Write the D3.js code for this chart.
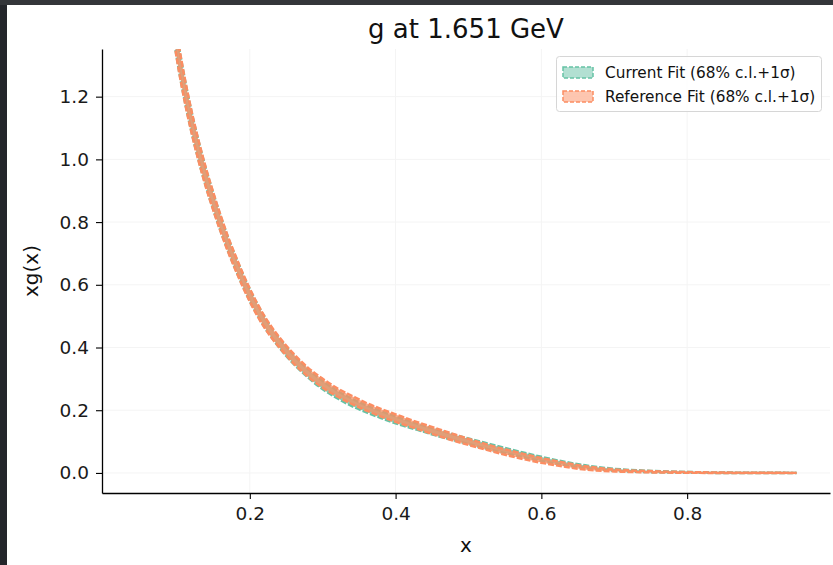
<!DOCTYPE html>
<html>
<head>
<meta charset="utf-8">
<script src="https://cdn.jsdelivr.net/npm/d3@7"></script>
<style>
  body { margin: 0; background: #24262b; }
  svg { display: block; font-family: "DejaVu Sans", sans-serif; }
</style>
</head>
<body>
<svg id="chart" width="833" height="565"></svg>
<script>
// values
var xValues = [0.09, 0.10, 0.11, 0.12, 0.13, 0.14, 0.15, 0.16, 0.17, 0.18, 0.19, 0.20, 0.21, 0.22, 0.23, 0.24, 0.26, 0.28, 0.30,
  0.32, 0.34, 0.36, 0.38, 0.40, 0.43, 0.46, 0.50, 0.53, 0.56, 0.60, 0.63, 0.66, 0.70, 0.75, 0.80, 0.85, 0.90, 0.95];
var currentCV = [1.52, 1.36, 1.23, 1.12, 1.025, 0.94, 0.865, 0.795, 0.73, 0.672, 0.617, 0.567, 0.522, 0.482, 0.447, 0.416, 0.362, 0.317, 0.280,
  0.250, 0.225, 0.204, 0.186, 0.169, 0.147, 0.126, 0.101, 0.083, 0.066, 0.045, 0.031, 0.020, 0.010, 0.0045, 0.0018, 0.0007, 0.0002, 0.0];
var currentErr = [0.040, 0.036, 0.033, 0.030, 0.028, 0.026, 0.024, 0.022, 0.020, 0.019, 0.018, 0.017, 0.016, 0.015, 0.014, 0.014, 0.013, 0.012, 0.012,
  0.011, 0.011, 0.010, 0.010, 0.010, 0.009, 0.009, 0.008, 0.008, 0.007, 0.006, 0.005, 0.004, 0.003, 0.002, 0.0012, 0.0007, 0.0004, 0.0002];
var referenceCV = [1.52, 1.36, 1.23, 1.12, 1.025, 0.94, 0.865, 0.795, 0.73, 0.672, 0.617, 0.567, 0.522, 0.482, 0.448, 0.418, 0.365, 0.321, 0.286,
  0.257, 0.233, 0.211, 0.192, 0.175, 0.151, 0.128, 0.099, 0.079, 0.061, 0.040, 0.027, 0.016, 0.008, 0.0038, 0.0016, 0.0006, 0.0002, 0.0];
var referenceErr = [0.042, 0.038, 0.035, 0.032, 0.030, 0.028, 0.026, 0.024, 0.022, 0.021, 0.020, 0.019, 0.018, 0.017, 0.016, 0.015, 0.014, 0.013, 0.013,
  0.012, 0.012, 0.011, 0.011, 0.011, 0.010, 0.010, 0.009, 0.008, 0.008, 0.007, 0.006, 0.005, 0.003, 0.002, 0.0012, 0.0007, 0.0004, 0.0002];
var xTicks = [0.2, 0.4, 0.6, 0.8];
var yTicks = [0.0, 0.2, 0.4, 0.6, 0.8, 1.0, 1.2];
var seriesNames = ["Current Fit (68% c.l.+1σ)", "Reference Fit (68% c.l.+1σ)"];
var seriesColors = ["#66c2a5", "#fc8d62"];

var svg = d3.select("#chart");
var margin = {top: 49, right: 3, bottom: 72, left: 102};
var W = 833, H = 565;

// dark frame around the white figure
svg.append("rect").attr("width", W).attr("height", H).attr("fill", "#24262b");
svg.append("rect").attr("x", 0).attr("y", 0).attr("width", W).attr("height", 5).attr("fill", "#34363a");
svg.append("rect").attr("x", 7).attr("y", 5).attr("width", W - 7).attr("height", H - 5).attr("fill", "#ffffff");

var x = d3.scaleLinear().domain([-0.0028, 0.996]).range([margin.left, W - margin.right]);
var y = d3.scaleLinear().domain([-0.064, 1.352]).range([H - margin.bottom, margin.top]);

// faint grid
svg.append("g").selectAll("line").data(xTicks).enter().append("line")
  .attr("x1", function(d) { return x(d); }).attr("x2", function(d) { return x(d); })
  .attr("y1", y.range()[1]).attr("y2", y.range()[0])
  .attr("stroke", "#f4f4f4").attr("stroke-width", 1);
svg.append("g").selectAll("line").data(yTicks).enter().append("line")
  .attr("y1", function(d) { return y(d); }).attr("y2", function(d) { return y(d); })
  .attr("x1", x.range()[0]).attr("x2", x.range()[1])
  .attr("stroke", "#f4f4f4").attr("stroke-width", 1);

svg.append("clipPath").attr("id", "clip").append("rect")
  .attr("x", x.range()[0]).attr("y", y.range()[1])
  .attr("width", x.range()[1] - x.range()[0]).attr("height", y.range()[0] - y.range()[1]);

var plot = svg.append("g").attr("clip-path", "url(#clip)");

var series = [
  {cv: currentCV, err: currentErr, color: seriesColors[0]},
  {cv: referenceCV, err: referenceErr, color: seriesColors[1]}
];

series.forEach(function(s) {
  var pts = xValues.map(function(xv, i) { return {x: xv, cv: s.cv[i], e: s.err[i]}; });
  var area = d3.area().curve(d3.curveMonotoneX)
    .x(function(d) { return x(d.x); })
    .y0(function(d) { return y(d.cv - d.e); })
    .y1(function(d) { return y(d.cv + d.e); });
  plot.append("path").datum(pts).attr("d", area)
    .attr("fill", s.color).attr("fill-opacity", 0.75);
  [-1.1, 1.1].forEach(function(k) {
    var line = d3.line().curve(d3.curveMonotoneX)
      .x(function(d) { return x(d.x); })
      .y(function(d) { return y(d.cv + k * d.e); });
    plot.append("path").datum(pts).attr("d", line)
      .attr("fill", "none").attr("stroke", s.color).attr("stroke-width", 2.4)
      .attr("stroke-dasharray", "6,2");
  });
});

// axes
var xAxis = svg.append("g")
  .attr("transform", "translate(0," + y.range()[0] + ")")
  .call(d3.axisBottom(x).tickValues(xTicks).tickFormat(d3.format(".1f")).tickSize(6).tickPadding(8).tickSizeOuter(0));
var yAxis = svg.append("g")
  .attr("transform", "translate(" + x.range()[0] + ",0)")
  .call(d3.axisLeft(y).tickValues(yTicks).tickFormat(d3.format(".1f")).tickSize(6).tickPadding(7).tickSizeOuter(0));
[xAxis, yAxis].forEach(function(a) {
  a.selectAll("path").attr("stroke", "#000").attr("stroke-width", 1.3);
  a.selectAll("line").attr("stroke", "#000").attr("stroke-width", 1.1);
  a.selectAll("text").attr("font-size", 18.5).attr("fill", "#1a1a1a").attr("font-family", "DejaVu Sans");
});

// labels
svg.append("text").attr("x", 466).attr("y", 38).attr("text-anchor", "middle")
  .attr("font-size", 26).attr("fill", "#111").text("g at 1.651 GeV");
svg.append("text").attr("x", 466).attr("y", 552).attr("text-anchor", "middle")
  .attr("font-size", 20).attr("fill", "#111").text("x");
svg.append("text").attr("transform", "translate(38,271) rotate(-90)").attr("text-anchor", "middle")
  .attr("font-size", 20).attr("fill", "#111").text("xg(x)");

// legend
var lg = svg.append("g");
lg.append("rect").attr("x", 556.5).attr("y", 56.5).attr("width", 265).attr("height", 55).attr("rx", 3)
  .attr("fill", "#fff").attr("fill-opacity", 0.8).attr("stroke", "#d6d6d6");
seriesNames.forEach(function(name, i) {
  var cy = 72.5 + i * 24;
  lg.append("rect").attr("x", 563).attr("y", cy - 5.5).attr("width", 30).attr("height", 11)
    .attr("fill", seriesColors[i]).attr("fill-opacity", 0.5)
    .attr("stroke", seriesColors[i]).attr("stroke-width", 1.5).attr("stroke-dasharray", "4,2");
  lg.append("text").attr("x", 605).attr("y", cy + 5).attr("font-size", 15.3).attr("fill", "#111").text(name);
});
</script>
</body>
</html>
